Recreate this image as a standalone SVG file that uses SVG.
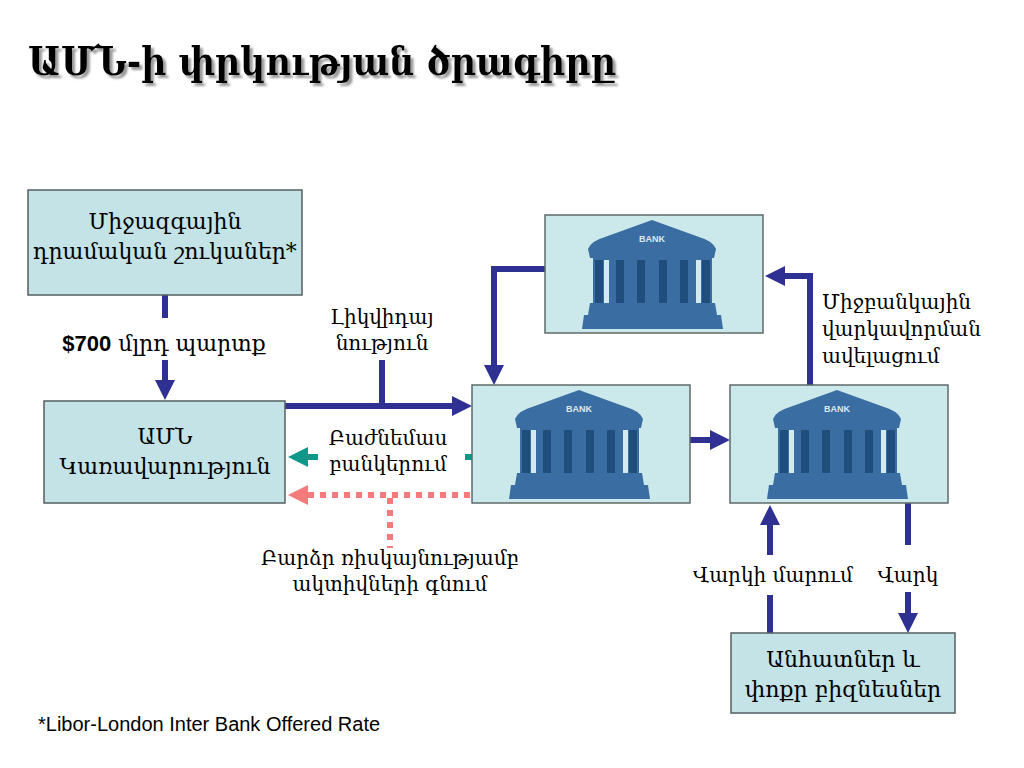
<svg xmlns="http://www.w3.org/2000/svg" xmlns:xlink="http://www.w3.org/1999/xlink" width="1024" height="768" viewBox="0 0 1024 768">
<style>
.arm{font-family:"DejaVu Serif","DejaVu Sans",serif;fill:#000}
.node{fill:#c3e3e6;stroke:#555f60;stroke-width:1.5}
.bankbox{fill:#cbe8ea;stroke:#5f6a6a;stroke-width:1.5}
.lbl{font-size:20px}
.ntx{font-size:22px;text-anchor:middle}
.blue{fill:none;stroke:#2e3192;stroke-width:6}
.teal{fill:none;stroke:#0f978a;stroke-width:6}
.pink{fill:none;stroke:#f47a7c;stroke-width:6;stroke-dasharray:6 6}
</style>
<defs>
<filter id="shadow" x="-5%" y="-20%" width="110%" height="150%"><feDropShadow dx="3" dy="3" stdDeviation="0.8" flood-color="#9a9a9a" flood-opacity="1"/></filter>
<marker id="ab" viewBox="0 0 20 20" markerWidth="20" markerHeight="20" markerUnits="userSpaceOnUse" refX="2" refY="10" orient="auto"><path d="M0,0 L20,10 L0,20 z" fill="#2e3192"/></marker>
<marker id="at" viewBox="0 0 20 20" markerWidth="20" markerHeight="20" markerUnits="userSpaceOnUse" refX="2" refY="10" orient="auto"><path d="M0,0 L20,10 L0,20 z" fill="#0f978a"/></marker>
<marker id="ap" viewBox="0 0 20 20" markerWidth="20" markerHeight="20" markerUnits="userSpaceOnUse" refX="2" refY="10" orient="auto"><path d="M0,0 L20,10 L0,20 z" fill="#f47a7c"/></marker>
<g id="bank">
<rect class="bankbox" x="0" y="0" width="218" height="118"/>
<path d="M43,34 Q46,26 60,22 L107,5 L154,22 Q168,26 171,34 L169,43 L45,43 z" fill="#3a6ea3"/>
<rect x="48" y="43" width="119" height="48" fill="#3a6ea3"/>
<rect x="59" y="45" width="5" height="44" fill="#d3eaf0"/>
<rect x="151" y="45" width="5" height="44" fill="#d3eaf0"/>
<rect x="50" y="45" width="8" height="44" fill="#1f4d7c"/>
<rect x="71" y="45" width="8" height="44" fill="#1f4d7c"/>
<rect x="92" y="45" width="8" height="44" fill="#1f4d7c"/>
<rect x="114" y="45" width="8" height="44" fill="#1f4d7c"/>
<rect x="135" y="45" width="8" height="44" fill="#1f4d7c"/>
<rect x="157" y="45" width="8" height="44" fill="#1f4d7c"/>
<path d="M45,88 L170,88 L172,100 L176,100 L178,114 L37,114 L39,100 L43,100 z" fill="#3a6ea3"/>
<text x="107" y="27" font-family="Liberation Sans,sans-serif" font-weight="bold" font-size="9" fill="#dbe8f3" text-anchor="middle">BANK</text>
</g>
</defs>
<rect width="1024" height="768" fill="#fff"/>

<g id="title">
<text x="28" y="75" class="arm" font-size="40" font-weight="bold" filter="url(#shadow)" textLength="588" lengthAdjust="spacingAndGlyphs">ԱՄՆ-ի փրկության ծրագիրը</text>
</g>

<g id="connectors">
<path class="blue" d="M165,295 V318"/>
<path class="blue" d="M165,360 V382" marker-end="url(#ab)"/>
<path class="blue" d="M285,406 H454" marker-end="url(#ab)"/>
<path class="blue" d="M382,360 V406"/>
<path class="teal" d="M318,457 H306" marker-end="url(#at)"/>
<path class="teal" d="M465,457 H472"/>
<path class="pink" d="M470,495 H306" marker-end="url(#ap)"/>
<path class="pink" d="M390,498 V548"/>
<path class="blue" d="M690,440 H712" marker-end="url(#ab)"/>
<path class="blue" d="M545,269 H494 V367" marker-end="url(#ab)"/>
<path class="blue" d="M810,385 V276 H783" marker-end="url(#ab)"/>
<path class="blue" d="M770,633 V595"/>
<path class="blue" d="M770,555 V523" marker-end="url(#ab)"/>
<path class="blue" d="M908,503 V545"/>
<path class="blue" d="M908,592 V615" marker-end="url(#ab)"/>
</g>

<g id="n-markets">
<rect class="node" x="28" y="190" width="274" height="105"/>
<text class="arm ntx" x="165" y="229">Միջազգային</text>
<text class="arm ntx" x="165" y="259">դրամական շուկաներ*</text>
</g>
<g id="n-gov">
<rect class="node" x="44" y="401" width="241" height="102"/>
<text class="arm ntx" x="165" y="444">ԱՄՆ</text>
<text class="arm ntx" x="165" y="474">Կառավարություն</text>
</g>
<g id="n-bank-top"><use xlink:href="#bank" x="545" y="215"/></g>
<g id="n-bank-mid"><use xlink:href="#bank" x="472" y="385"/></g>
<g id="n-bank-right"><use xlink:href="#bank" x="730" y="385"/></g>
<g id="n-people">
<rect class="node" x="731" y="633" width="224" height="80"/>
<text class="arm ntx" x="843" y="667">Անհատներ և</text>
<text class="arm ntx" x="843" y="697">փոքր բիզնեսներ</text>
</g>

<g id="labels">
<text x="164" y="351" text-anchor="middle" class="arm" font-size="22"><tspan font-family="Liberation Sans,sans-serif" font-weight="bold">$700</tspan> մլրդ պարտք</text>
<text x="382" y="324" text-anchor="middle" class="arm lbl">Լիկվիդայ</text>
<text x="382" y="350" text-anchor="middle" class="arm lbl">նություն</text>
<text x="388" y="445" text-anchor="middle" class="arm lbl">Բաժնեմաս</text>
<text x="388" y="471" text-anchor="middle" class="arm lbl">բանկերում</text>
<text x="390" y="565" text-anchor="middle" class="arm lbl">Բարձր ռիսկայնությամբ</text>
<text x="390" y="591" text-anchor="middle" class="arm lbl">ակտիվների գնում</text>
<text x="822" y="309" class="arm lbl">Միջբանկային</text>
<text x="822" y="336" class="arm lbl">վարկավորման</text>
<text x="822" y="363" class="arm lbl">ավելացում</text>
<text x="773" y="582" text-anchor="middle" class="arm lbl">Վարկի մարում</text>
<text x="908" y="582" text-anchor="middle" class="arm lbl">Վարկ</text>
<text x="38" y="731" font-family="Liberation Sans,sans-serif" font-size="20" fill="#000">*Libor-London Inter Bank Offered Rate</text>
</g>
</svg>
